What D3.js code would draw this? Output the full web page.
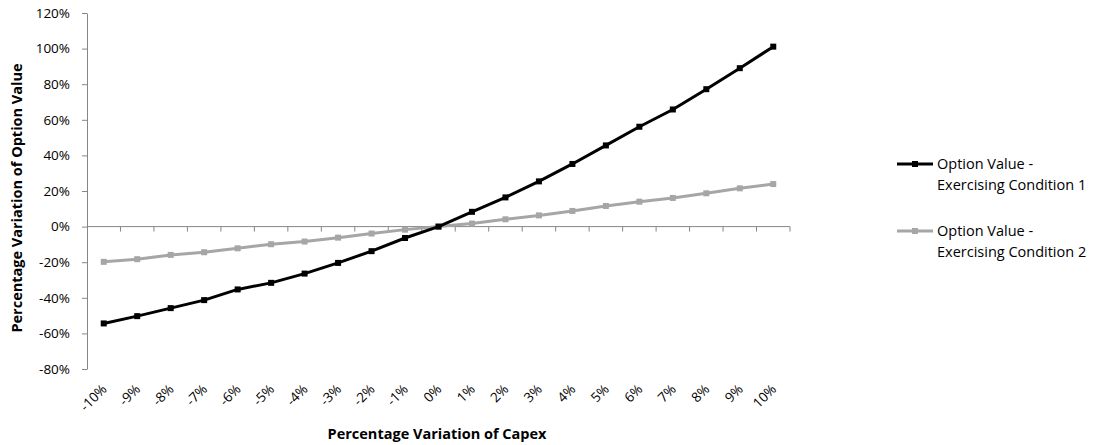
<!DOCTYPE html>
<html>
<head>
<meta charset="utf-8">
<script src="https://cdn.jsdelivr.net/npm/d3@7"></script>
<style>
  body { margin: 0; background: #fff; }
  text { font-family: "Open Sans", "Liberation Sans", sans-serif; }
</style>
</head>
<body>
<script>
// categories and series
var categories = ["-10%", "-9%", "-8%", "-7%", "-6%", "-5%", "-4%", "-3%", "-2%", "-1%", "0%",
                  "1%", "2%", "3%", "4%", "5%", "6%", "7%", "8%", "9%", "10%"];
var condition1 = [-54.4, -50.3, -45.8, -41.3, -35.3, -31.6, -26.4, -20.4, -13.8, -6.4, 0,
                  8.3, 16.4, 25.4, 35.2, 45.6, 56.1, 65.8, 77.2, 89.0, 101.1];
var condition2 = [-19.8, -18.3, -15.9, -14.4, -12.2, -9.9, -8.4, -6.2, -3.9, -1.7, 0,
                  1.7, 4.1, 6.3, 8.8, 11.6, 14.0, 16.1, 18.7, 21.5, 23.9];
var yTicks = [-80, -60, -40, -20, 0, 20, 40, 60, 80, 100, 120];
var seriesNames = [["Option Value -", "Exercising Condition 1"], ["Option Value -", "Exercising Condition 2"]];

const w = 1098, h = 445;
const plotLeft = 87, plotRight = 790, plotTop = 13, plotBottom = 369;
var axisColor = "#868686";
var black1 = "#000000";
var gray1 = "#a6a6a6";

const svg = d3.select("body").append("svg")
    .attr("width", w)
    .attr("height", h);

var x = d3.scaleBand().domain(categories).range([plotLeft, plotRight]);
var y = d3.scaleLinear().domain([-80, 120]).range([plotBottom, plotTop]);

// y axis
var yAxis = svg.append("g")
    .attr("transform", "translate(" + plotLeft + ",0)")
    .call(d3.axisLeft(y).tickValues(yTicks).tickSize(5).tickSizeOuter(0).tickFormat(d => d + "%"));
yAxis.select(".domain").attr("stroke", axisColor);
yAxis.selectAll(".tick line").attr("stroke", axisColor);
yAxis.selectAll(".tick text").attr("font-size", 13.5).attr("fill", "#000").attr("x", -17);

// x axis on the zero line, ticks between categories
var xAxis = svg.append("g").attr("transform", "translate(0," + y(0) + ")");
xAxis.append("line")
    .attr("x1", plotLeft).attr("x2", plotRight)
    .attr("stroke", axisColor);
xAxis.selectAll("line.tk")
    .data(categories)
    .enter()
    .append("line")
    .attr("class", "tk")
    .attr("x1", d => x(d) + x.bandwidth())
    .attr("x2", d => x(d) + x.bandwidth())
    .attr("y1", 0).attr("y2", 5)
    .attr("stroke", axisColor);

// tick labels at the bottom, rotated
svg.selectAll("text.xl")
    .data(categories)
    .enter()
    .append("text")
    .attr("class", "xl")
    .attr("font-size", 13.5)
    .attr("text-anchor", "end")
    .attr("transform", d => "translate(" + (x(d) + x.bandwidth() / 2 + 4) + "," + 390 + ") rotate(-45)")
    .text(d => d);

// lines + markers
var line = d3.line()
    .x((d, i) => x(categories[i]) + x.bandwidth() / 2)
    .y(d => y(d));

[[condition2, gray1], [condition1, black1]].forEach(function (s) {
    svg.append("path")
        .attr("d", line(s[0]))
        .attr("fill", "none")
        .attr("stroke", s[1])
        .attr("stroke-width", 3)
        .attr("stroke-linejoin", "round");
    svg.selectAll(null)
        .data(s[0])
        .enter()
        .append("rect")
        .attr("x", (d, i) => x(categories[i]) + x.bandwidth() / 2 - 3)
        .attr("y", d => y(d) - 3)
        .attr("width", 6)
        .attr("height", 6)
        .attr("fill", s[1]);
});

// axis titles
svg.append("text")
    .attr("x", 437).attr("y", 439)
    .attr("text-anchor", "middle")
    .attr("font-size", 14.5)
    .attr("font-weight", "bold")
    .text("Percentage Variation of Capex");
svg.append("text")
    .attr("transform", "translate(22,198) rotate(-90)")
    .attr("text-anchor", "middle")
    .attr("font-size", 14.5)
    .attr("font-weight", "bold")
    .text("Percentage Variation of Option Value");

// legend
var legend = svg.selectAll("g.leg")
    .data([black1, gray1])
    .enter()
    .append("g")
    .attr("class", "leg")
    .attr("transform", (d, i) => "translate(897," + (164 + i * 67) + ")");
legend.append("line")
    .attr("x1", 0).attr("x2", 36)
    .attr("stroke", d => d)
    .attr("stroke-width", 3);
legend.append("rect")
    .attr("x", 15).attr("y", -3)
    .attr("width", 6).attr("height", 6)
    .attr("fill", d => d);
legend.append("text")
    .attr("x", 40).attr("y", 5)
    .attr("font-size", 14.5)
    .text((d, i) => seriesNames[i][0]);
legend.append("text")
    .attr("x", 40).attr("y", 26)
    .attr("font-size", 14.5)
    .text((d, i) => seriesNames[i][1]);
</script>
</body>
</html>
